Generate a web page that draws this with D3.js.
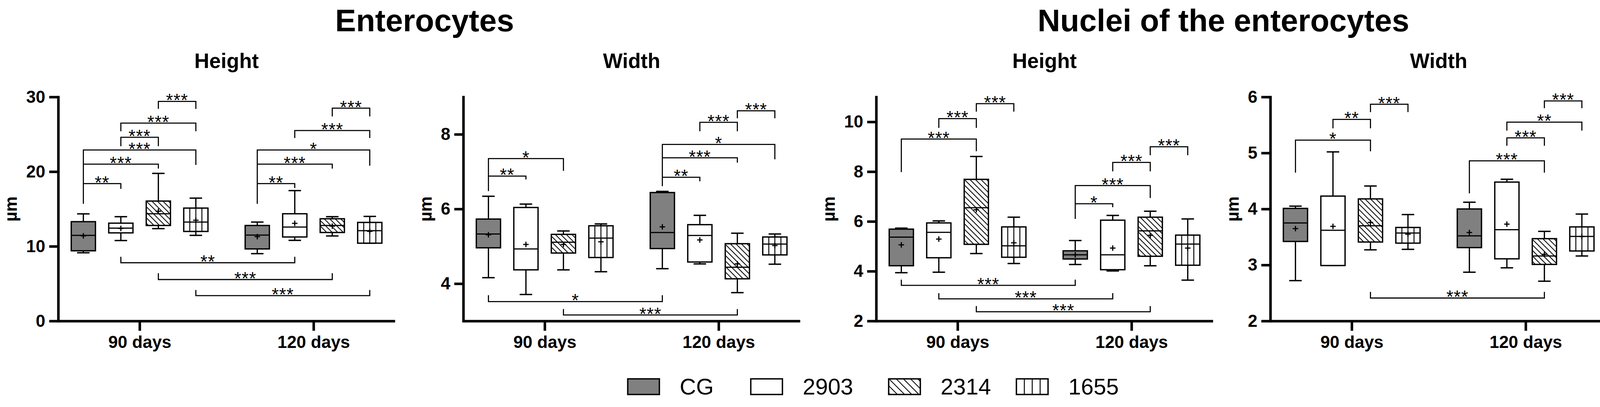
<!DOCTYPE html>
<html>
<head>
<meta charset="utf-8">
<title>Enterocytes box plots</title>
<script src="https://d3js.org/d3.v7.min.js"></script>
<style>
  body { margin: 0; background: #fff; }
  svg text { font-family: "Liberation Sans", Arial, Helvetica, sans-serif; fill: #000; }
</style>
</head>
<body>
<svg id="chart"></svg>
<script>
// ---- data ----
const days = ["90 days", "120 days"];
const groups = ["CG", "2903", "2314", "1655"];

// each row: [whisker low, q1, median, q3, whisker high, mean]
// order: 90 days CG, 2903, 2314, 1655, then 120 days CG, 2903, 2314, 1655
const entHeight = [
  [9.13, 9.40, 11.46, 13.30, 14.35, 11.40],
  [10.77, 11.80, 12.44, 13.10, 13.97, 12.40],
  [12.37, 12.79, 14.36, 16.06, 19.76, 14.70],
  [11.46, 11.99, 13.24, 15.12, 16.45, 13.50],
  [9.02, 9.65, 11.50, 12.79, 13.24, 11.30],
  [10.80, 11.25, 12.58, 14.36, 17.46, 13.07],
  [11.39, 11.85, 12.79, 13.69, 13.97, 12.70],
  [10.42, 10.42, 12.09, 13.20, 14.00, 12.00]
];
const entWidth = [
  [4.16, 4.96, 5.33, 5.73, 6.34, 5.31],
  [3.71, 4.37, 4.93, 6.04, 6.13, 5.05],
  [4.37, 4.82, 5.11, 5.32, 5.41, 5.05],
  [4.32, 4.70, 5.22, 5.55, 5.60, 5.12],
  [4.40, 4.94, 5.37, 6.44, 6.47, 5.52],
  [4.53, 4.58, 5.29, 5.58, 5.83, 5.17],
  [3.76, 4.13, 4.44, 5.07, 5.35, 4.53],
  [4.52, 4.77, 5.06, 5.25, 5.33, 5.02]
];
const nucHeight = [
  [3.94, 4.22, 5.37, 5.69, 5.73, 5.06],
  [3.96, 4.54, 5.56, 5.94, 6.02, 5.29],
  [4.71, 5.08, 6.55, 7.69, 8.61, 6.47],
  [4.31, 4.56, 5.02, 5.78, 6.17, 5.14],
  [4.27, 4.49, 4.66, 4.82, 5.23, 4.66],
  [4.01, 4.06, 4.66, 6.05, 6.24, 4.93],
  [4.22, 4.60, 5.62, 6.17, 6.41, 5.44],
  [3.64, 4.24, 5.09, 5.45, 6.10, 4.93]
];
const nucWidth = [
  [2.72, 3.42, 3.75, 4.01, 4.05, 3.65],
  [2.99, 2.99, 3.62, 4.23, 5.02, 3.69],
  [3.27, 3.41, 3.70, 4.18, 4.41, 3.76],
  [3.28, 3.39, 3.57, 3.67, 3.90, 3.55],
  [2.87, 3.31, 3.52, 4.00, 4.12, 3.58],
  [2.95, 3.11, 3.63, 4.48, 4.53, 3.73],
  [2.71, 3.01, 3.16, 3.47, 3.60, 3.19],
  [3.16, 3.25, 3.51, 3.68, 3.91, 3.51]
];

// significance brackets: [day A, group A, day B, group B, bar value, leg A end, leg B end, label]
const entHeightSig = [
  [0, 2, 0, 3, 29.4, 28.4, 28.4, "***"],
  [0, 1, 0, 3, 26.5, 25.4, 25.4, "***"],
  [0, 1, 0, 2, 24.6, 23.4, 23.4, "***"],
  [0, 0, 0, 3, 22.9, 15.7, 20.9, "***"],
  [0, 0, 0, 2, 21.0, 21.0, 20.4, "***"],
  [0, 0, 0, 1, 18.4, 18.4, 17.7, "**"],
  [1, 2, 1, 3, 28.5, 27.4, 27.4, "***"],
  [1, 1, 1, 3, 25.5, 24.5, 24.5, "***"],
  [1, 0, 1, 3, 22.9, 15.7, 20.8, "*"],
  [1, 0, 1, 2, 21.0, 21.0, 20.4, "***"],
  [1, 0, 1, 1, 18.4, 18.4, 17.8, "**"],
  [0, 1, 1, 1, 7.8, 8.6, 8.6, "**"],
  [0, 2, 1, 2, 5.55, 6.4, 6.4, "***"],
  [0, 3, 1, 3, 3.4, 4.15, 4.15, "***"]
];
const entWidthSig = [
  [0, 0, 0, 2, 7.35, 6.48, 7.02, "*"],
  [0, 0, 0, 1, 6.88, 6.88, 6.79, "**"],
  [1, 2, 1, 3, 8.63, 8.43, 8.43, "***"],
  [1, 1, 1, 2, 8.32, 8.08, 8.08, "***"],
  [1, 0, 1, 3, 7.73, 6.61, 7.33, "*"],
  [1, 0, 1, 2, 7.37, 7.37, 7.24, "***"],
  [1, 0, 1, 1, 6.85, 6.85, 6.74, "**"],
  [0, 0, 1, 0, 3.52, 3.69, 3.69, "*"],
  [0, 2, 1, 2, 3.16, 3.32, 3.32, "***"]
];
const nucHeightSig = [
  [0, 2, 0, 3, 10.73, 10.41, 10.41, "***"],
  [0, 1, 0, 2, 10.13, 9.76, 9.76, "***"],
  [0, 0, 0, 2, 9.31, 7.98, 8.82, "***"],
  [1, 2, 1, 3, 9.0, 8.66, 8.66, "***"],
  [1, 1, 1, 2, 8.37, 8.01, 8.01, "***"],
  [1, 0, 1, 2, 7.44, 6.10, 6.94, "***"],
  [1, 0, 1, 1, 6.71, 6.71, 6.57, "*"],
  [0, 0, 1, 0, 3.43, 3.66, 3.66, "***"],
  [0, 1, 1, 1, 2.89, 3.12, 3.12, "***"],
  [0, 2, 1, 2, 2.37, 2.60, 2.60, "***"]
];
const nucWidthSig = [
  [0, 2, 0, 3, 5.87, 5.73, 5.73, "***"],
  [0, 1, 0, 2, 5.60, 5.44, 5.44, "**"],
  [0, 0, 0, 2, 5.23, 4.65, 5.03, "*"],
  [1, 2, 1, 3, 5.93, 5.80, 5.80, "***"],
  [1, 1, 1, 3, 5.55, 5.40, 5.40, "**"],
  [1, 1, 1, 2, 5.27, 5.13, 5.13, "***"],
  [1, 0, 1, 2, 4.86, 4.28, 4.65, "***"],
  [0, 2, 1, 2, 2.41, 2.52, 2.52, "***"]
];

const yTitle = "µm";
const mainTitles = ["Enterocytes", "Nuclei of the enterocytes"];

// ---- layout ----
const W = 4134, H = 1041;
const plotTop = 248, plotBottom = 821, plotW = 862;

const panels = [
  { sub: "Height", x0: 149,  domain: [0, 30], ticks: [0, 10, 20, 30], boxes: entHeight, sig: entHeightSig },
  { sub: "Width",  x0: 1186, domain: [3, 9],  ticks: [4, 6, 8],       boxes: entWidth,  sig: entWidthSig },
  { sub: "Height", x0: 2243, domain: [2, 11], ticks: [2, 4, 6, 8, 10], boxes: nucHeight, sig: nucHeightSig },
  { sub: "Width",  x0: 3252, domain: [2, 6],  ticks: [2, 3, 4, 5, 6], boxes: nucWidth,  sig: nucWidthSig }
];

const svg = d3.select("#chart").attr("width", W).attr("height", H);

// patterns
const defs = svg.append("defs");
function hatch(id, gap) {
  const p = defs.append("pattern").attr("id", id)
    .attr("patternUnits", "userSpaceOnUse")
    .attr("width", gap).attr("height", gap)
    .attr("patternTransform", "rotate(-45)");
  p.append("rect").attr("width", gap).attr("height", gap).attr("fill", "#fff");
  p.append("line").attr("x1", 0).attr("x2", 0).attr("y1", 0).attr("y2", gap)
    .attr("stroke", "#000").attr("stroke-width", 4.2);
}
hatch("hatchBox", 10);
hatch("hatchLeg", 13);

function fillFor(name, legend) {
  if (name === "CG") return "#808080";
  if (name === "2314") return legend ? "url(#hatchLeg)" : "url(#hatchBox)";
  return "#fff";
}

// sub positions of the four groups around each day
const sub = d3.scaleBand().domain(groups).range([-192, 192])
  .paddingInner(0.354).paddingOuter(0.177);
const bw = sub.bandwidth();

// main titles
svg.append("text").attr("x", 1087).attr("y", 80).attr("text-anchor", "middle")
  .attr("font-size", 80).attr("font-weight", "bold").text(mainTitles[0]);
svg.append("text").attr("x", 3132).attr("y", 80).attr("text-anchor", "middle")
  .attr("font-size", 80).attr("font-weight", "bold").text(mainTitles[1]);

panels.forEach(p => {
  const g = svg.append("g");
  const x = d3.scalePoint().domain(days).range([p.x0, p.x0 + plotW]).padding(0.468);
  const y = d3.scaleLinear().domain(p.domain).range([plotBottom, plotTop]);
  const cx = (di, gi) => x(days[di]) + sub(groups[gi]) + bw / 2;

  // subtitle
  g.append("text").attr("x", p.x0 + plotW / 2).attr("y", 174).attr("text-anchor", "middle")
    .attr("font-size", 53).attr("font-weight", "bold").text(p.sub);

  // boxes
  p.boxes.forEach((b, i) => {
    const di = Math.floor(i / 4), gi = i % 4;
    const c = cx(di, gi), left = c - bw / 2;
    const [lo, q1, med, q3, hi, mean] = b;
    const bg = g.append("g").attr("stroke", "#000").attr("fill", "none");
    // whiskers
    bg.append("line").attr("x1", c).attr("x2", c).attr("y1", y(hi)).attr("y2", y(q3)).attr("stroke-width", 3.2);
    bg.append("line").attr("x1", c).attr("x2", c).attr("y1", y(q1)).attr("y2", y(lo)).attr("stroke-width", 3.2);
    bg.append("line").attr("x1", c - 16).attr("x2", c + 16).attr("y1", y(hi)).attr("y2", y(hi)).attr("stroke-width", 3.5);
    bg.append("line").attr("x1", c - 16).attr("x2", c + 16).attr("y1", y(lo)).attr("y2", y(lo)).attr("stroke-width", 3.5);
    // box
    bg.append("rect").attr("x", left).attr("y", y(q3)).attr("width", bw)
      .attr("height", y(q1) - y(q3)).attr("fill", fillFor(groups[gi], false)).attr("stroke-width", 3.4);
    if (groups[gi] === "1655") {
      [1, 2, 3].forEach(k => {
        bg.append("line").attr("x1", left + bw * k / 4).attr("x2", left + bw * k / 4)
          .attr("y1", y(q3)).attr("y2", y(q1)).attr("stroke-width", 2.4);
      });
    }
    // median
    bg.append("line").attr("x1", left).attr("x2", left + bw).attr("y1", y(med)).attr("y2", y(med)).attr("stroke-width", 3);
    // mean
    bg.append("path").attr("d", `M${c - 7},${y(mean)}H${c + 7}M${c},${y(mean) - 7}V${y(mean) + 7}`)
      .attr("stroke-width", 3);
  });

  // significance brackets
  p.sig.forEach(([d1, g1, d2, g2, yl, e1, e2, lab]) => {
    const xa = cx(d1, g1), xb = cx(d2, g2);
    g.append("path").attr("d", `M${xa},${y(e1)}V${y(yl)}H${xb}V${y(e2)}`)
      .attr("fill", "none").attr("stroke", "#000").attr("stroke-width", 2.8);
    g.append("text").attr("x", (xa + xb) / 2).attr("y", y(yl) + 13).attr("text-anchor", "middle")
      .attr("font-size", 46).attr("letter-spacing", 1).text(lab);
  });

  // y axis
  const ya = g.append("g").attr("transform", `translate(${p.x0},0)`)
    .call(d3.axisLeft(y).tickValues(p.ticks).tickSize(23).tickSizeOuter(0).tickPadding(10).tickFormat(d3.format("d")));
  ya.attr("font-size", 44).attr("font-weight", "bold")
    .attr("font-family", '"Liberation Sans", Arial, sans-serif');
  ya.selectAll("line, path").attr("stroke", "#000").attr("stroke-width", 6.5);
  ya.select(".domain").attr("stroke-linecap", "square");

  // x axis
  const xa = g.append("g").attr("transform", `translate(0,${plotBottom})`)
    .call(d3.axisBottom(x).tickSize(25).tickSizeOuter(0).tickPadding(13));
  xa.attr("font-size", 44).attr("font-weight", "bold")
    .attr("font-family", '"Liberation Sans", Arial, sans-serif');
  xa.selectAll("line, path").attr("stroke", "#000").attr("stroke-width", 6.5);

  // y title
  const maxW = d3.max(ya.selectAll("text").nodes(), n => n.getComputedTextLength());
  const lx = p.x0 - 33 - maxW - 24;
  g.append("text").attr("transform", `translate(${lx},${(plotTop + plotBottom) / 2}) rotate(-90)`)
    .attr("text-anchor", "middle").attr("font-size", 44).attr("font-weight", "bold").text(yTitle);
});

// legend
const legX = [1607, 1922, 2275, 2602];
groups.forEach((name, i) => {
  const lg = svg.append("g");
  lg.append("rect").attr("x", legX[i]).attr("y", 969).attr("width", 81).attr("height", 40)
    .attr("fill", fillFor(name, true)).attr("stroke", "#000").attr("stroke-width", 3.5);
  if (name === "1655") {
    [1, 2, 3].forEach(k => {
      lg.append("line").attr("x1", legX[i] + 81 * k / 4).attr("x2", legX[i] + 81 * k / 4)
        .attr("y1", 969).attr("y2", 1009).attr("stroke", "#000").attr("stroke-width", 2.4);
    });
  }
  lg.append("text").attr("x", legX[i] + 133).attr("y", 1009).attr("font-size", 58).text(name);
});
</script>
</body>
</html>
